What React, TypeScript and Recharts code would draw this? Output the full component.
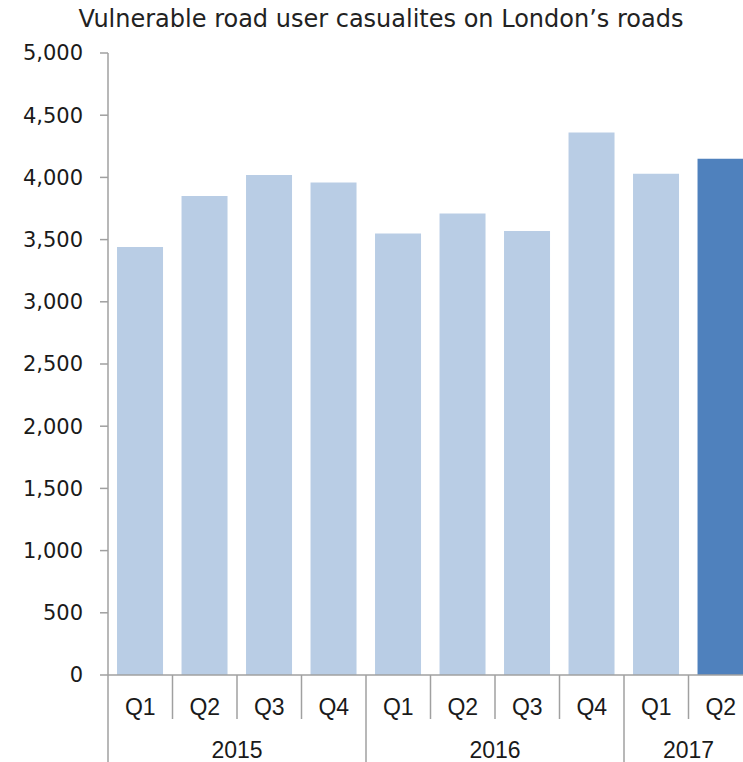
import { Bar, BarChart, Cell, XAxis, YAxis } from 'recharts'

const years = ['2015', '2016', '2017']
const quartersPerYear = [
  ['Q1', 'Q2', 'Q3', 'Q4'],
  ['Q1', 'Q2', 'Q3', 'Q4'],
  ['Q1', 'Q2'],
]
const casualties = [3440, 3850, 4020, 3960, 3550, 3710, 3570, 4360, 4030, 4150]
const yTicks = [0, 500, 1000, 1500, 2000, 2500, 3000, 3500, 4000, 4500, 5000]

// flatten year/quarter groups into one row per bar
const chartData = years.flatMap((year, yi) =>
  quartersPerYear[yi].map((quarter, qi) => ({ year, quarter, yearSize: quartersPerYear[yi].length, firstOfYear: qi === 0 }))
).map((row, i) => ({ ...row, casualties: casualties[i] }))

const PLOT_BOTTOM = 675
const CHART_BOTTOM = 762
const LIGHT = '#b9cde5'
const DARK = '#4f81bd'
const AXIS = '#a0a0a0'
const ROUND_FONT = 'DejaVu Sans, sans-serif'
const LABEL_FONT = 'Liberation Sans, Arial, sans-serif'

function QuarterTick(props: any) {
  const { x, payload, index } = props
  const half = payload.offset ?? 32.25
  const row = chartData[index]
  const left = x - half
  return (
    <g>
      <text x={x} y={715} textAnchor="middle" fill="#1a1a1a" fontSize={23} fontFamily={LABEL_FONT}>
        {row.quarter}
      </text>
      {row.firstOfYear ? (
        <>
          <line x1={left} x2={left} y1={PLOT_BOTTOM} y2={CHART_BOTTOM} stroke={AXIS} strokeWidth={1.5} />
          <text x={left + half * row.yearSize} y={758} textAnchor="middle" fill="#1a1a1a" fontSize={23} fontFamily={LABEL_FONT}>
            {row.year}
          </text>
        </>
      ) : (
        <line x1={left} x2={left} y1={PLOT_BOTTOM} y2={719} stroke={AXIS} strokeWidth={1.5} />
      )}
    </g>
  )
}

function App() {
  return (
    <div style={{ position: 'absolute', left: 0, top: 0, width: 743, height: 762, overflow: 'hidden', background: '#fff' }}>
      <div
        style={{
          position: 'absolute',
          top: 5,
          left: 0,
          width: 762,
          textAlign: 'center',
          fontFamily: ROUND_FONT,
          fontSize: 24,
          color: '#222',
          whiteSpace: 'nowrap',
        }}
      >
        Vulnerable road user casualites on London’s roads
      </div>
      <BarChart
        width={760}
        height={762}
        data={chartData}
        margin={{ top: 53, right: 7, left: 0, bottom: 0 }}
        barCategoryGap="14%"
      >
        <YAxis
          width={108}
          domain={[0, 5000]}
          ticks={yTicks}
          interval={0}
          tickFormatter={(v: number) => v.toLocaleString('en-US')}
          axisLine={{ stroke: AXIS, strokeWidth: 1.5 }}
          tickLine={{ stroke: AXIS, strokeWidth: 1.5 }}
          tickSize={8}
          tickMargin={17}
          tick={{ fill: '#1a1a1a', fontSize: 21, fontFamily: ROUND_FONT }}
        />
        <XAxis
          dataKey="quarter"
          height={87}
          interval={0}
          axisLine={{ stroke: AXIS, strokeWidth: 1.5 }}
          tickLine={false}
          tick={<QuarterTick />}
        />
        <Bar dataKey="casualties" isAnimationActive={false}>
          {chartData.map((_, i) => (
            <Cell key={i} fill={i === chartData.length - 1 ? DARK : LIGHT} />
          ))}
        </Bar>
      </BarChart>
    </div>
  )
}

export default App
